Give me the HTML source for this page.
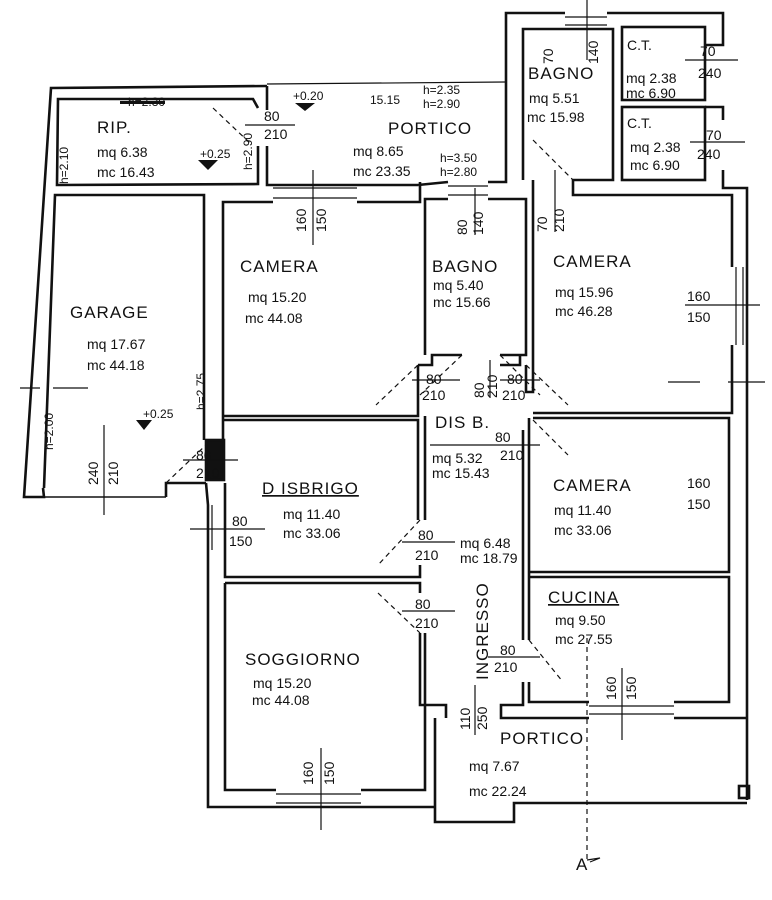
<!DOCTYPE html>
<html><head><meta charset="utf-8"><style>
html,body{margin:0;padding:0;background:#fff}
svg{display:block}
text{font-family:"Liberation Sans",sans-serif;fill:#111}
.n{font-size:17px;letter-spacing:1px}
.s{font-size:14px}
.t{font-size:12px}
</style></head><body>
<svg width="772" height="900" viewBox="0 0 772 900" xmlns="http://www.w3.org/2000/svg">
<g stroke="#111" stroke-width="2.6" fill="none" stroke-linejoin="miter">
<!-- RIP / garage outer -->
<polyline points="267,86 51,88 24,497 44,497 43,488"/>
<polyline points="258,108 253,99 58,99 57,185 258,184 258,146"/>
<polyline points="267,86 267,110"/>
<polyline points="267,146 267,185 418,185"/>
<!-- garage -->
<polyline points="44,488 55,195 204,195 204,440"/>
<line x1="44" y1="497" x2="166" y2="497" stroke-width="1.5"/>
<polyline points="166,497 166,483 206,483"/>
<polyline points="223,440 223,202 273,202"/>
<!-- camera1 -->
<polyline points="357,202 420,202 420,182"/>
<polyline points="223,416 418,416 418,365"/>
<polyline points="223,420 418,420 418,520"/>
<!-- disbrigo / soggiorno left -->
<rect x="206" y="440" width="18" height="40" fill="#111"/>
<polyline points="206,483 208,505 208,807 435,807"/>
<polyline points="225,483 225,577 420,577 420,565"/>
<polyline points="225,583 420,583 420,593"/>
<polyline points="420,633 420,705 446,705 446,718"/>
<polyline points="425,633 425,790 361,790"/>
<polyline points="276,790 225,790 225,583"/>
<polyline points="425,520 425,416"/>
<!-- middle bagno -->
<polyline points="425,355 425,199 448,199"/>
<polyline points="488,199 526,199 526,355 500,355"/>
<polyline points="462,355 432,355 432,365 418,365"/>
<polyline points="418,185 448,182"/>
<polyline points="488,182 506,182 506,13 565,13"/>
<polyline points="500,365 520,365 520,355"/>
<!-- top right bagno / CT -->
<polyline points="523,180 523,29 613,29 613,180 573,180 573,195 732,195 732,267"/>
<polyline points="607,13 723,13 723,45 705,45"/>
<rect x="622" y="27" width="83" height="73"/>
<rect x="622" y="107" width="83" height="73"/>
<polyline points="705,107 723,107 723,120"/>
<polyline points="723,170 723,188 747,188 747,800"/>
<polyline points="533,180 533,392 526,392 526,365"/>
<!-- camera right windows -->
<polyline points="732,345 732,413 533,413"/>
<polyline points="533,418 729,418 729,572 529,572"/>
<polyline points="529,577 729,577 729,702 674,702"/>
<polyline points="589,702 529,702 529,682"/>
<polyline points="529,640 529,418"/>
<polyline points="523,640 523,430"/>
<polyline points="523,682 523,705 501,705 501,718 589,718"/>
<polyline points="674,718 747,718"/>
<!-- portico bottom -->
<polyline points="435,718 435,822 514,822 514,803 747,803"/>
<rect x="739" y="786" width="10" height="12"/>
</g>
<g stroke="#111" stroke-width="1.2" fill="none">
<!-- windows thin lines -->
<line x1="273" y1="188" x2="357" y2="188"/><line x1="273" y1="198" x2="357" y2="198"/>
<line x1="448" y1="186" x2="488" y2="186"/><line x1="448" y1="195" x2="488" y2="195"/>
<line x1="565" y1="17" x2="607" y2="17"/><line x1="565" y1="25" x2="607" y2="25"/>
<line x1="736" y1="267" x2="736" y2="345"/><line x1="743" y1="267" x2="743" y2="345"/>
<line x1="589" y1="706" x2="674" y2="706"/><line x1="589" y1="714" x2="674" y2="714"/>
<line x1="276" y1="794" x2="361" y2="794"/><line x1="276" y1="803" x2="361" y2="803"/>
<line x1="267" y1="84" x2="505" y2="82"/>
<line x1="212" y1="505" x2="212" y2="550"/>
<!-- doors dashed -->
<g stroke-dasharray="5,4">
<line x1="213" y1="108" x2="252" y2="145"/>
<line x1="166" y1="483" x2="206" y2="445"/>
<line x1="533" y1="140" x2="573" y2="180"/>
<line x1="418" y1="365" x2="376" y2="405"/>
<line x1="462" y1="355" x2="420" y2="395"/>
<line x1="500" y1="355" x2="540" y2="395"/>
<line x1="526" y1="365" x2="568" y2="405"/>
<line x1="533" y1="420" x2="568" y2="455"/>
<line x1="420" y1="520" x2="378" y2="565"/>
<line x1="378" y1="593" x2="420" y2="633"/>
<line x1="529" y1="640" x2="563" y2="682"/>
<line x1="587" y1="638" x2="587" y2="860"/>
</g>
<!-- dimension lines -->
<line x1="245" y1="125" x2="295" y2="125"/>
<line x1="313" y1="170" x2="313" y2="245"/>
<line x1="475" y1="188" x2="475" y2="235"/>
<line x1="555" y1="170" x2="555" y2="232"/>
<line x1="587" y1="0" x2="587" y2="60"/>
<line x1="685" y1="60" x2="738" y2="60"/>
<line x1="690" y1="142" x2="745" y2="142"/>
<line x1="685" y1="305" x2="760" y2="305"/>
<line x1="668" y1="382" x2="700" y2="382"/><line x1="728" y1="382" x2="765" y2="382"/>
<line x1="20" y1="388" x2="40" y2="388"/><line x1="53" y1="388" x2="88" y2="388"/>
<line x1="104" y1="425" x2="104" y2="515"/>
<line x1="183" y1="460" x2="238" y2="460"/>
<line x1="190" y1="529" x2="265" y2="529"/>
<line x1="412" y1="380" x2="460" y2="380"/>
<line x1="500" y1="380" x2="540" y2="380"/>
<line x1="490" y1="360" x2="490" y2="398"/>
<line x1="430" y1="445" x2="540" y2="445"/>
<line x1="402" y1="542" x2="455" y2="542"/>
<line x1="402" y1="611" x2="455" y2="611"/>
<line x1="488" y1="657" x2="540" y2="657"/>
<line x1="475" y1="685" x2="475" y2="735"/>
<line x1="622" y1="668" x2="622" y2="740"/>
<line x1="321" y1="748" x2="321" y2="830"/>
<polyline points="587,860 600,858 590,862"/>
</g>
<g>
<text class="n" x="97" y="133">RIP.</text>
<text class="s" x="97" y="157">mq 6.38</text>
<text class="s" x="97" y="177">mc 16.43</text>
<text class="t" x="128" y="106">h=2.30</text>
<text class="t" x="200" y="158">+0.25</text>
<text class="t" x="293" y="100">+0.20</text>
<text class="t" x="370" y="104">15.15</text>
<text class="t" x="423" y="94">h=2.35</text>
<text class="t" x="423" y="108">h=2.90</text>
<text class="n" x="388" y="134">PORTICO</text>
<text class="s" x="353" y="156">mq  8.65</text>
<text class="s" x="353" y="176">mc  23.35</text>
<text class="t" x="440" y="162">h=3.50</text>
<text class="t" x="440" y="176">h=2.80</text>
<text class="s" x="264" y="121">80</text>
<text class="s" x="264" y="139">210</text>
<text class="n" x="70" y="318">GARAGE</text>
<text class="s" x="87" y="349">mq 17.67</text>
<text class="s" x="87" y="370">mc 44.18</text>
<text class="t" x="143" y="418">+0.25</text>
<text class="n" x="240" y="272">CAMERA</text>
<text class="s" x="248" y="302">mq 15.20</text>
<text class="s" x="245" y="323">mc 44.08</text>
<text class="n" x="432" y="272">BAGNO</text>
<text class="s" x="433" y="290">mq 5.40</text>
<text class="s" x="433" y="307">mc 15.66</text>
<text class="n" x="528" y="79">BAGNO</text>
<text class="s" x="529" y="103">mq 5.51</text>
<text class="s" x="527" y="122">mc 15.98</text>
<text class="s" x="627" y="50">C.T.</text>
<text class="s" x="626" y="83">mq 2.38</text>
<text class="s" x="626" y="98">mc 6.90</text>
<text class="s" x="627" y="128">C.T.</text>
<text class="s" x="630" y="152">mq 2.38</text>
<text class="s" x="630" y="170">mc 6.90</text>
<text class="s" x="700" y="56">70</text><text class="s" x="698" y="78">240</text>
<text class="s" x="706" y="140">70</text><text class="s" x="697" y="159">240</text>
<text class="n" x="553" y="267">CAMERA</text>
<text class="s" x="555" y="297">mq 15.96</text>
<text class="s" x="555" y="316">mc 46.28</text>
<text class="s" x="687" y="301">160</text><text class="s" x="687" y="322">150</text>
<text class="s" x="426" y="384">80</text><text class="s" x="422" y="400">210</text>
<text class="s" x="507" y="384">80</text><text class="s" x="502" y="400">210</text>
<text class="n" x="435" y="428">DIS B.</text>
<text class="s" x="495" y="442">80</text><text class="s" x="500" y="460">210</text>
<text class="s" x="432" y="463">mq 5.32</text>
<text class="s" x="432" y="478">mc 15.43</text>
<text class="n" x="262" y="494" text-decoration="underline">D ISBRIGO</text>
<text class="s" x="283" y="519">mq 11.40</text>
<text class="s" x="283" y="538">mc 33.06</text>
<text class="s" x="232" y="526">80</text><text class="s" x="229" y="546">150</text>
<text class="s" x="196" y="460">80</text><text class="s" x="196" y="478">210</text>
<text class="s" x="418" y="540">80</text><text class="s" x="415" y="560">210</text>
<text class="s" x="460" y="548">mq 6.48</text>
<text class="s" x="460" y="563">mc 18.79</text>
<text class="n" x="553" y="491">CAMERA</text>
<text class="s" x="554" y="515">mq 11.40</text>
<text class="s" x="554" y="535">mc 33.06</text>
<text class="s" x="687" y="488">160</text><text class="s" x="687" y="509">150</text>
<text class="n" x="548" y="603" text-decoration="underline">CUCINA</text>
<text class="s" x="555" y="625">mq 9.50</text>
<text class="s" x="555" y="644">mc 27.55</text>
<text class="s" x="415" y="609">80</text><text class="s" x="415" y="628">210</text>
<text class="s" x="500" y="655">80</text><text class="s" x="494" y="672">210</text>
<text class="n" x="245" y="665">SOGGIORNO</text>
<text class="s" x="253" y="688">mq 15.20</text>
<text class="s" x="252" y="705">mc 44.08</text>
<text class="n" x="500" y="744">PORTICO</text>
<text class="s" x="469" y="771">mq 7.67</text>
<text class="s" x="469" y="796">mc 22.24</text>
<text class="n" x="576" y="870">A</text>
<text class="n" transform="translate(488,680) rotate(-90)">INGRESSO</text>
<text class="s" transform="translate(467,235) rotate(-90)">80</text>
<text class="s" transform="translate(483,235) rotate(-90)">140</text>
<text class="s" transform="translate(306,232) rotate(-90)">160</text>
<text class="s" transform="translate(326,232) rotate(-90)">150</text>
<text class="s" transform="translate(553,64) rotate(-90)">70</text>
<text class="s" transform="translate(598,64) rotate(-90)">140</text>
<text class="s" transform="translate(547,232) rotate(-90)">70</text>
<text class="s" transform="translate(564,232) rotate(-90)">210</text>
<text class="s" transform="translate(484,398) rotate(-90)">80</text>
<text class="s" transform="translate(497,398) rotate(-90)">210</text>
<text class="t" transform="translate(68,184) rotate(-90)">h=2.10</text>
<text class="t" transform="translate(252,170) rotate(-90)">h=2.90</text>
<text class="t" transform="translate(205,410) rotate(-90)">h=2.75</text>
<text class="t" transform="translate(53,450) rotate(-90)">h=2.00</text>
<text class="s" transform="translate(98,485) rotate(-90)">240</text>
<text class="s" transform="translate(118,485) rotate(-90)">210</text>
<text class="s" transform="translate(470,730) rotate(-90)">110</text>
<text class="s" transform="translate(487,730) rotate(-90)">250</text>
<text class="s" transform="translate(616,700) rotate(-90)">160</text>
<text class="s" transform="translate(636,700) rotate(-90)">150</text>
<text class="s" transform="translate(313,785) rotate(-90)">160</text>
<text class="s" transform="translate(334,785) rotate(-90)">150</text>
</g>
<g fill="#111"><polygon points="120,101 165,101 165,104 120,104"/>
<polygon points="198,160 218,160 208,170"/><polygon points="295,103 315,103 305,111"/>
<polygon points="136,420 152,420 144,430"/></g>
</svg>
</body></html>
